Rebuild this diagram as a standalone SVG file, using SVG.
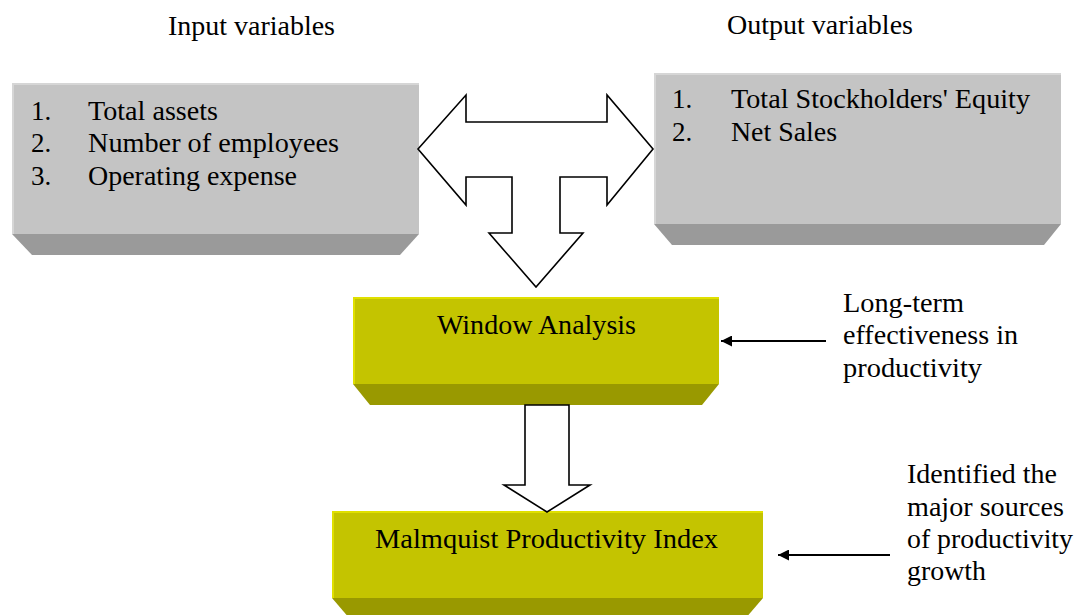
<svg xmlns="http://www.w3.org/2000/svg" width="1078" height="615" viewBox="0 0 1078 615" font-family="'Liberation Serif', 'Times New Roman', Tinos, Times, serif">
<defs>
<style>
text{font-family:'Liberation Serif','Times New Roman',Tinos,Times,serif;font-size:27px;fill:#000}
.gface{fill:#c4c4c4}
.gbev{fill:#9a9a9a}
.ghi{fill:none;stroke:#d6d6d6;stroke-width:2}
.yface{fill:#c4c400}
.ybev{fill:#999900}
.yhi{fill:none;stroke:#e0e000;stroke-width:2}
.block{fill:#fff;stroke:#000;stroke-width:1.6;stroke-linejoin:miter}
.ln{stroke:#000;stroke-width:2.2;fill:none}
</style>
<marker id="ah" viewBox="0 0 10 10" refX="10" refY="5" markerWidth="7" markerHeight="5" orient="auto" markerUnits="strokeWidth">
<path d="M0,0 L10,5 L0,10 Z" fill="#000"/>
</marker>
</defs>
<rect width="1078" height="615" fill="#fff"/>

<g id="title-input"><text x="168" y="35" textLength="167" lengthAdjust="spacingAndGlyphs">Input variables</text></g>
<g id="title-output"><text x="727" y="34" textLength="186" lengthAdjust="spacingAndGlyphs">Output variables</text></g>

<g id="input-box">
<polygon class="gbev" points="12,234 419,234 400,255 32,255"/>
<rect class="gface" x="12" y="83" width="407" height="151"/>
<polyline class="ghi" points="13,234 13,84 419,84"/>
<text x="31" y="120">1.</text><text x="88" y="120" textLength="130" lengthAdjust="spacingAndGlyphs">Total assets</text>
<text x="31" y="152">2.</text><text x="88" y="152" textLength="251" lengthAdjust="spacingAndGlyphs">Number of employees</text>
<text x="31" y="185">3.</text><text x="88" y="185" textLength="209" lengthAdjust="spacingAndGlyphs">Operating expense</text>
</g>

<g id="output-box">
<polygon class="gbev" points="654,224 1061,224 1044,245 672,245"/>
<rect class="gface" x="654" y="73" width="407" height="151"/>
<polyline class="ghi" points="655,224 655,74 1061,74"/>
<text x="672" y="108">1.</text><text x="731" y="108" textLength="299" lengthAdjust="spacingAndGlyphs">Total Stockholders' Equity</text>
<text x="672" y="141">2.</text><text x="731" y="141" textLength="106" lengthAdjust="spacingAndGlyphs">Net Sales</text>
</g>

<g id="window-box">
<polygon class="ybev" points="353,384 719,384 702,405 370,405"/>
<rect class="yface" x="353" y="297" width="366" height="87"/>
<polyline class="yhi" points="354,384 354,298 719,298"/>
<text x="437" y="334" textLength="199" lengthAdjust="spacingAndGlyphs">Window Analysis</text>
</g>

<g id="malmquist-box">
<polygon class="ybev" points="332,598 763,598 745,619 350,619"/>
<rect class="yface" x="332" y="511" width="431" height="87"/>
<polyline class="yhi" points="333,598 333,512 763,512"/>
<text x="375" y="548" textLength="343" lengthAdjust="spacingAndGlyphs">Malmquist Productivity Index</text>
</g>

<g id="note-window">
<text x="843" y="312" textLength="121" lengthAdjust="spacingAndGlyphs">Long-term</text>
<text x="843" y="344" textLength="175" lengthAdjust="spacingAndGlyphs">effectiveness in</text>
<text x="843" y="377" textLength="139" lengthAdjust="spacingAndGlyphs">productivity</text>
</g>

<g id="note-malmquist">
<text x="907" y="483" textLength="150" lengthAdjust="spacingAndGlyphs">Identified the</text>
<text x="907" y="516" textLength="157" lengthAdjust="spacingAndGlyphs">major sources</text>
<text x="907" y="548" textLength="166" lengthAdjust="spacingAndGlyphs">of productivity</text>
<text x="907" y="580" textLength="79" lengthAdjust="spacingAndGlyphs">growth</text>
</g>

<g id="connectors">
<polygon class="block" points="418,149 466,95 466,122 607,122 607,95 653,149 607,205 607,177 560,177 560,233 583,233 536,287 489,233 512,233 512,177 466,177 466,205"/>
<polygon class="block" points="525,405 569,405 569,485 590,485 547,512 504,485 525,485"/>
<line class="ln" x1="826" y1="341" x2="721" y2="341" marker-end="url(#ah)"/>
<line class="ln" x1="890" y1="555" x2="778" y2="555" marker-end="url(#ah)"/>
</g>
</svg>
